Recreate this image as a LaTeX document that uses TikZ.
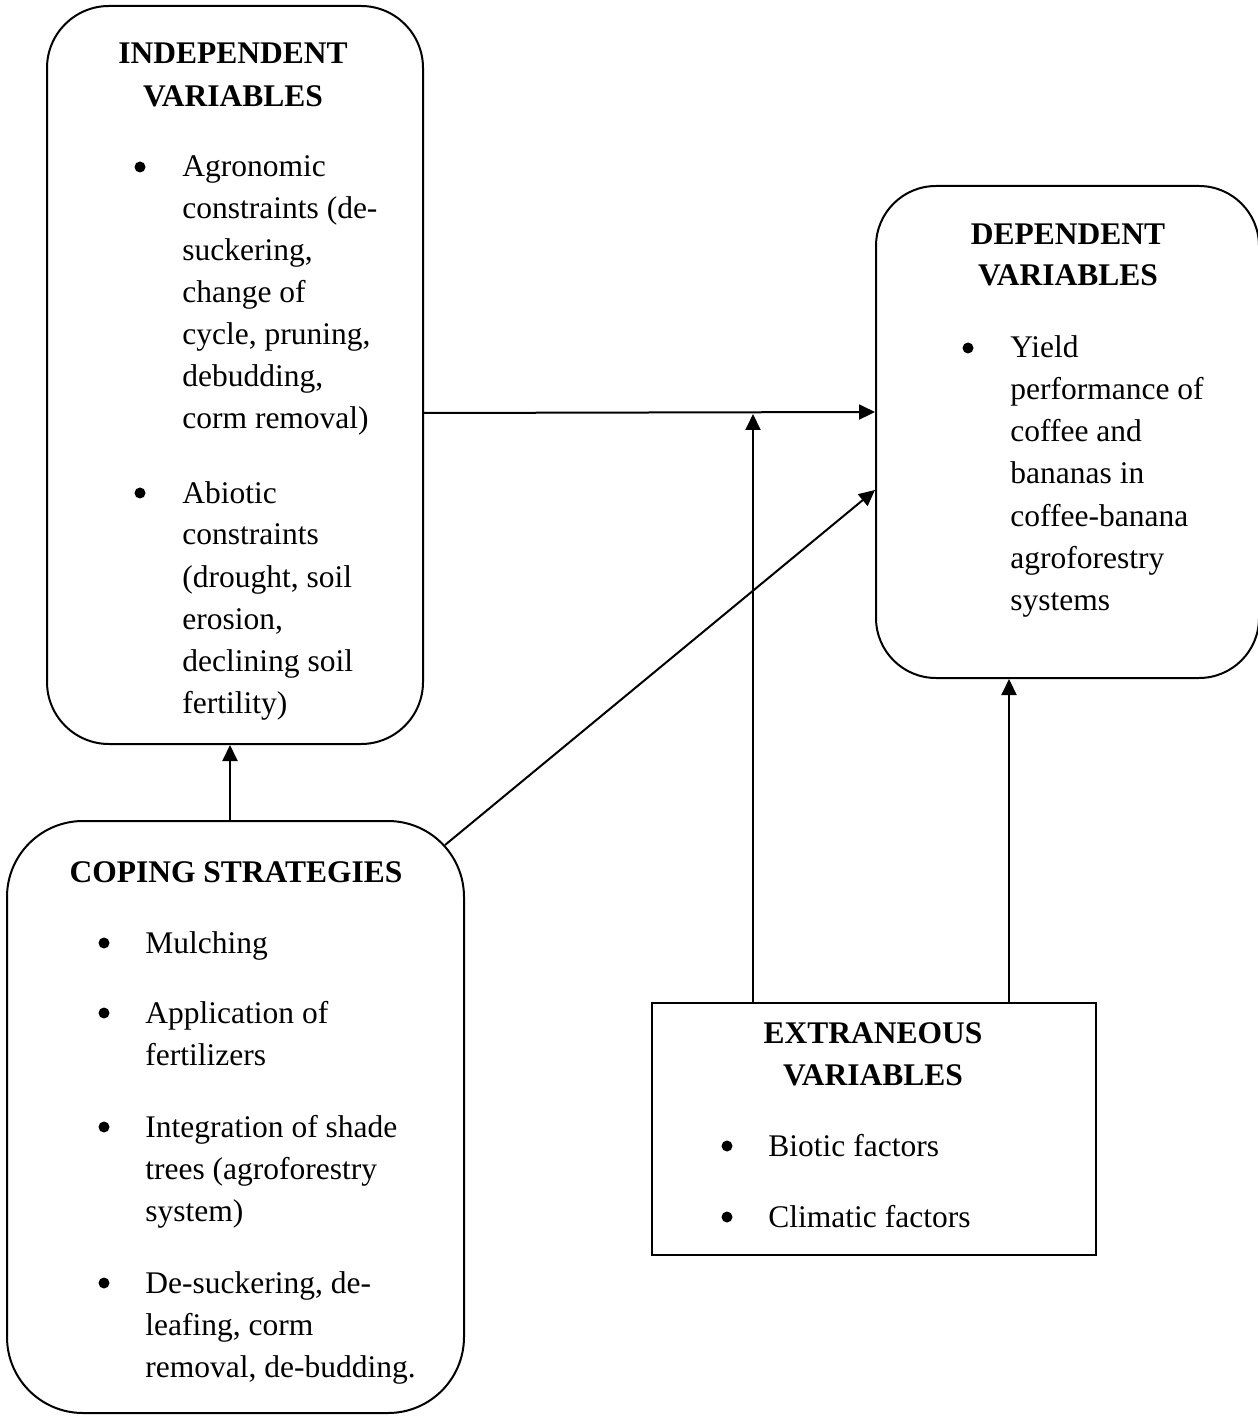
\documentclass[tikz,border=0pt]{standalone}
\usepackage{fontspec}
\setmainfont{Liberation Serif}
\usetikzlibrary{arrows.meta}
\begin{document}
\begin{tikzpicture}[x=0.5pt,y=-0.5pt,
  box/.style={draw,line width=1pt,inner sep=0pt},
  rbox/.style={box,rounded corners=#1},
  txt/.style={anchor=base west,inner sep=0pt,font=\fontsize{15.75pt}{21pt}\selectfont},
  ttl/.style={anchor=base,inner sep=0pt,font=\fontsize{15.75pt}{21pt}\selectfont\bfseries},
  bul/.style={circle,fill,inner sep=0pt,minimum size=5.5pt},
  arr/.style={line width=1pt,-{Triangle[length=8pt,width=7.5pt]}}]
\useasboundingbox (0,0) rectangle (1257,1416);
% boxes
\node[rbox=31pt,minimum width=188pt,minimum height=369pt] (ind) at (235,375) {};
\node[rbox=30pt,minimum width=191.5pt,minimum height=246pt] (dep) at (1067.5,432) {};
\node[rbox=38pt,minimum width=228.5pt,minimum height=296pt] (cop) at (235.5,1117) {};
\node[box,minimum width=222pt,minimum height=126pt] (ext) at (874,1129) {};
% independent
\node[ttl] (it1) at (233,64) {INDEPENDENT};
\node[ttl] (it2) at (233,107) {VARIABLES};
\node[bul] (ib1) at (140,167) {};
\node[txt] (ia1) at (182,177) {Agronomic};
\node[txt] (ia2) at (182,219) {constraints (de-};
\node[txt] (ia3) at (182,261) {suckering,};
\node[txt] (ia4) at (182,303) {change of};
\node[txt] (ia5) at (182,345) {cycle, pruning,};
\node[txt] (ia6) at (182,387) {debudding,};
\node[txt] (ia7) at (182,429) {corm removal)};
\node[bul] (ib2) at (140,493) {};
\node[txt] (ic1) at (182,503) {Abiotic};
\node[txt] (ic2) at (182,545) {constraints};
\node[txt] (ic3) at (182,587) {(drought, soil};
\node[txt] (ic4) at (182,629) {erosion,};
\node[txt] (ic5) at (182,671) {declining soil};
\node[txt] (ic6) at (182,713) {fertility)};
% dependent
\node[ttl] (dt1) at (1068,245) {DEPENDENT};
\node[ttl] (dt2) at (1068,286) {VARIABLES};
\node[bul] (db1) at (968,348) {};
\node[txt] (da1) at (1010,358) {Yield};
\node[txt] (da2) at (1010,400) {performance of};
\node[txt] (da3) at (1010,442) {coffee and};
\node[txt] (da4) at (1010,484) {bananas in};
\node[txt] (da5) at (1010,526) {coffee-banana};
\node[txt] (da6) at (1010,568) {agroforestry};
\node[txt] (da7) at (1010,610) {systems};
% coping
\node[ttl] (ct1) at (236,882) {COPING STRATEGIES};
\node[bul] (cb1) at (104,943) {};
\node[txt] (ca1) at (145,953) {Mulching};
\node[bul] (cb2) at (104,1013) {};
\node[txt] (cc1) at (145,1023) {Application of};
\node[txt] (cc2) at (145,1065) {fertilizers};
\node[bul] (cb3) at (104,1127) {};
\node[txt] (cd1) at (145,1137) {Integration of shade};
\node[txt] (cd2) at (145,1179) {trees (agroforestry};
\node[txt] (cd3) at (145,1221) {system)};
\node[bul] (cb4) at (104,1283) {};
\node[txt] (ce1) at (145,1293) {De-suckering, de-};
\node[txt] (ce2) at (145,1335) {leafing, corm};
\node[txt] (ce3) at (145,1377) {removal, de-budding.};
% extraneous
\node[ttl] (et1) at (873,1043) {EXTRANEOUS};
\node[ttl] (et2) at (873,1085) {VARIABLES};
\node[bul] (eb1) at (727,1146) {};
\node[txt] (ea1) at (768,1156) {Biotic factors};
\node[bul] (eb2) at (727,1217) {};
\node[txt] (ea2) at (768,1227) {Climatic factors};
% connectors
\coordinate (j1) at (753,414);
\coordinate (d1) at (445,845);
\draw[arr] ([yshift=-19pt]ind.east) -- ([yshift=10pt]dep.west);
\draw[arr] ([xshift=-60.5pt]ext.north) -- (j1);
\draw[arr] (d1) -- ([yshift=-29pt]dep.west);
\draw[arr] ([xshift=-2.75pt]cop.north) -- ([xshift=-2.5pt]ind.south);
\draw[arr] ([xshift=67.5pt]ext.north) -- ([xshift=-29.25pt]dep.south);
\end{tikzpicture}
\end{document}
